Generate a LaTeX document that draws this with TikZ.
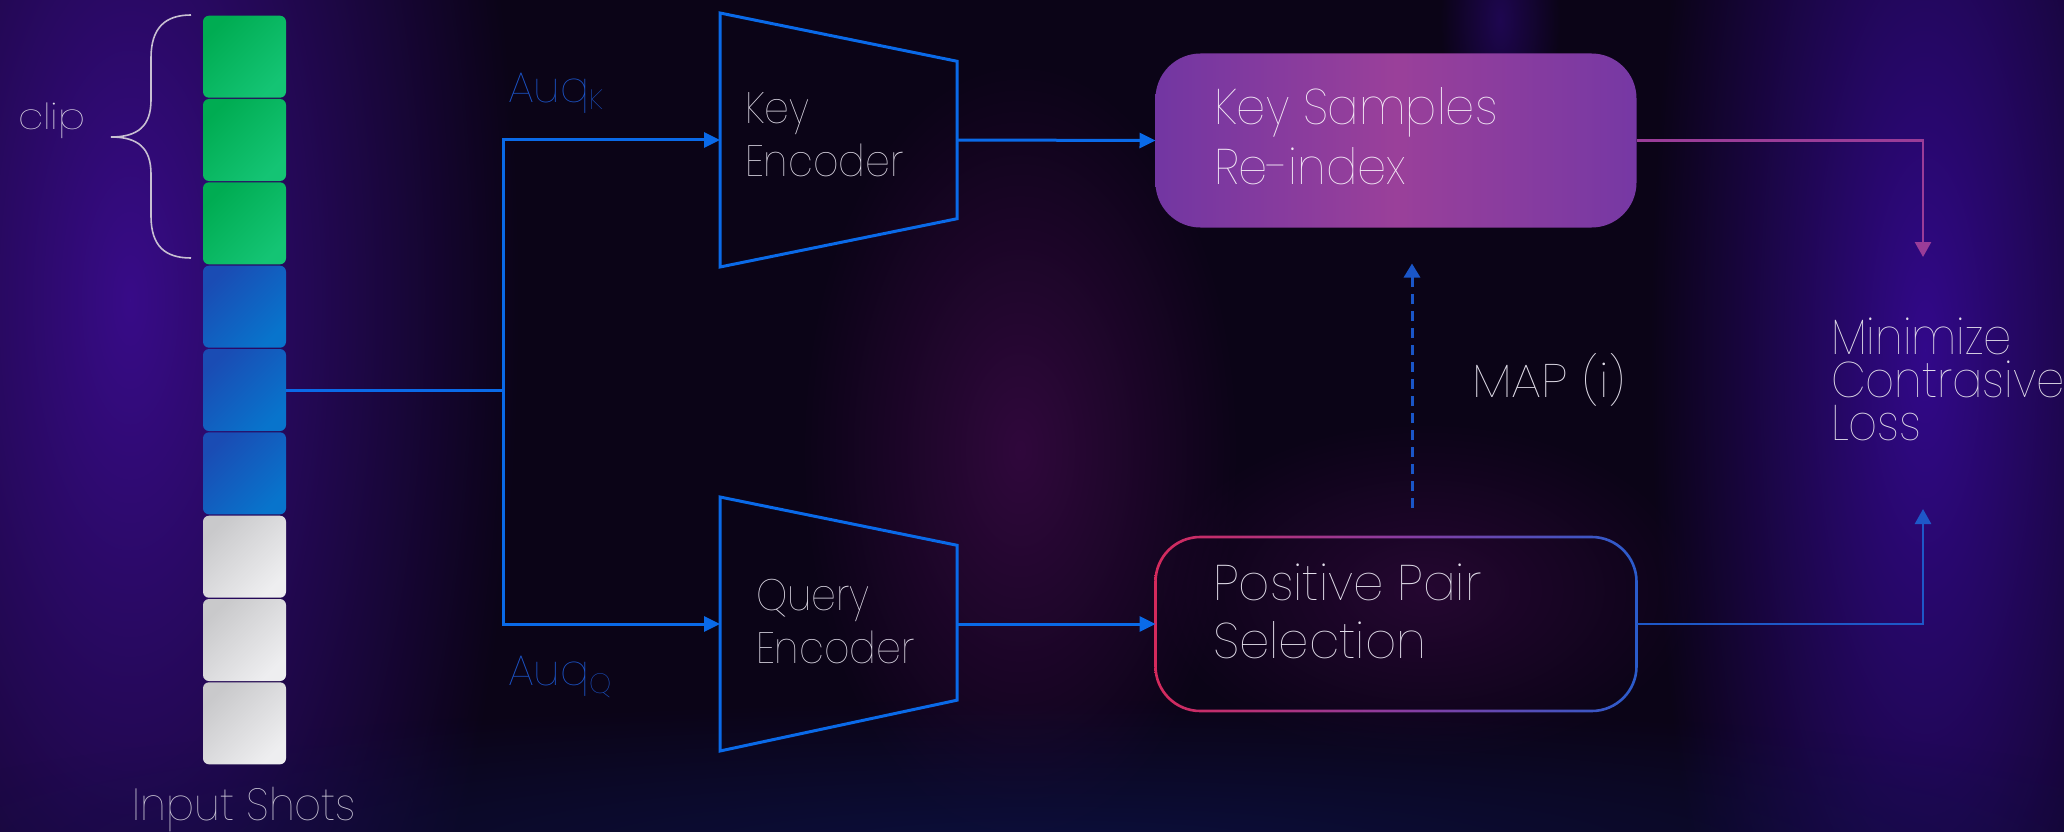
\documentclass[tikz,border=0pt]{standalone}
\usepackage{fontspec}
\usepackage{graphicx}
\IfFontExistsTF{Poppins Thin}{\setmainfont{Poppins Thin}}{%
  \IfFontExistsTF{Poppins ExtraLight}{\setmainfont{Poppins ExtraLight}}{\setmainfont{Poppins}}}
\usetikzlibrary{arrows.meta,calc,fadings}

\definecolor{bgbase}{HTML}{0B0417}
\definecolor{glowleft}{HTML}{380C88}
\definecolor{glowright}{HTML}{32098A}
\definecolor{glowmid}{HTML}{30083C}
\definecolor{glowlow}{HTML}{0C1246}
\definecolor{linkblue}{HTML}{0A6AE8}
\definecolor{outblue}{HTML}{1E58C8}
\definecolor{outmag}{HTML}{9A3C98}
\definecolor{dashblue}{HTML}{1A56C8}
\definecolor{auqblue}{HTML}{1C56CC}
\definecolor{txtgray}{HTML}{E2DEEA}
\definecolor{txtlight}{HTML}{F4EAF6}
\definecolor{txtshots}{HTML}{CAC6D6}
\definecolor{bracegray}{HTML}{C8C0D2}
\definecolor{greenA}{HTML}{00AC52}
\definecolor{greenB}{HTML}{14C474}
\definecolor{blueA}{HTML}{1A4CB4}
\definecolor{blueB}{HTML}{0874CC}
\definecolor{grayA}{HTML}{C9C9CB}
\definecolor{grayB}{HTML}{EEEEF0}
\definecolor{ksrA}{HTML}{7236A2}
\definecolor{ksrM}{HTML}{9A409A}
\definecolor{ksrB}{HTML}{7638A4}
\definecolor{ringA}{HTML}{D42A5C}
\definecolor{ringM}{HTML}{8C3CA0}
\definecolor{ringB}{HTML}{2A5CCC}

\tikzfading[name=glowfade, inner color=transparent!0, outer color=transparent!100]

% horizontally condensed text
\newcommand{\hsq}[2]{\scalebox{#1}[1]{#2}}

\tikzset{
  shot/.style={rectangle, rounded corners=6pt, minimum width=83pt,
    minimum height=82pt, inner sep=0pt, outer sep=0pt},
  shotgreen/.style={shot, left color=greenA, right color=greenB, shading angle=45},
  shotblue/.style={shot, left color=blueA, right color=blueB, shading angle=45},
  shotgray/.style={shot, left color=grayA, right color=grayB, shading angle=45},
  encbox/.style={rectangle, minimum width=237pt, minimum height=254pt, inner sep=0pt, outer sep=0pt},
  encline/.style={draw=linkblue, line width=3pt, line join=miter},
  link/.style={draw=linkblue, line width=3pt, -{Triangle[length=16pt,width=15pt]}},
  plainlink/.style={draw=linkblue, line width=3pt},
  outlink/.style={line width=2.6pt, -{Triangle[length=15pt,width=16pt]}},
  label/.style={inner sep=0pt, outer sep=0pt, text=txtgray},
  bigbox/.style={rectangle, minimum width=481pt, minimum height=174pt, inner sep=0pt, outer sep=0pt}
}

\begin{document}
\begin{tikzpicture}[x=1pt,y=-1pt]
\useasboundingbox (0,0) rectangle (2064,832);

% dark backdrop with soft coloured glows
\fill[bgbase] (0,0) rectangle (2064,832);
\fill[glowleft, path fading=glowfade] (-260,-700) rectangle (520,1300);
\fill[glowright, path fading=glowfade] (1650,-600) rectangle (2200,1300);
\fill[glowmid, path fading=glowfade] (800,60) rectangle (1240,840);
\fill[glowmid, path fading=glowfade, opacity=0.7] (1150,420) rectangle (1700,760);
\fill[glowright, path fading=glowfade, opacity=0.5] (1440,-120) rectangle (1560,160);
\fill[glowlow, path fading=glowfade, opacity=0.8] (-200,700) rectangle (2300,1000);

% input shots
\node[shotgreen] (s1) at (244.5,56.7) {};
\node[shotgreen] (s2) at (244.5,140.0) {};
\node[shotgreen] (s3) at (244.5,223.3) {};
\node[shotblue]  (s4) at (244.5,306.7) {};
\node[shotblue]  (s5) at (244.5,390.0) {};
\node[shotblue]  (s6) at (244.5,473.3) {};
\node[shotgray]  (s7) at (244.5,556.7) {};
\node[shotgray]  (s8) at (244.5,640.0) {};
\node[shotgray]  (s9) at (244.5,723.3) {};
\node[label, anchor=base, font=\fontsize{45}{50}\selectfont, text=txtshots] (inshots) at (244.5,820)
  {\hsq{0.93}{Input Shots}};

% clip brace
\draw[bracegray, line width=1.6pt]
  (191,15) .. controls (165,15) and (151,28) .. (151,58) -- (151,100)
  .. controls (151,126) and (138,137) .. (111,137)
  .. controls (138,137) and (151,148) .. (151,174) -- (151,216)
  .. controls (151,246) and (165,258) .. (191,258);
\node[label, anchor=base west, font=\fontsize{36}{40}\selectfont] (cliplbl) at (18,130) {\hsq{1.12}{clip}};

% encoders
\node[encbox] (kenc) at (838.5,140) {};
\node[encbox] (qenc) at (838.5,624) {};
\draw[encline] (kenc.north west) -- ($(kenc.north east)!0.19!(kenc.south east)$)
  -- ($(kenc.north east)!0.81!(kenc.south east)$) -- (kenc.south west) -- cycle;
\draw[encline] (qenc.north west) -- ($(qenc.north east)!0.19!(qenc.south east)$)
  -- ($(qenc.north east)!0.80!(qenc.south east)$) -- (qenc.south west) -- cycle;
\node[label, anchor=base west, font=\fontsize{44}{53}\selectfont] (kencT) at (745,124)
  {\hsq{0.9}{\parbox[t]{200pt}{\raggedright Key\\Encoder}}};
\node[label, anchor=base west, font=\fontsize{44}{53}\selectfont] (qencT) at (756,610)
  {\hsq{0.9}{\parbox[t]{200pt}{\raggedright Query\\Encoder}}};

% augmentation branches
\coordinate (jn) at (503,390);
\draw[plainlink] (s5.east) -- (jn);
\draw[link] (jn) |- (kenc.west);
\draw[link] (jn) |- (qenc.west);
\node[label, anchor=base west, text=auqblue, font=\fontsize{43}{50}\selectfont] (auqk) at (508,103)
  {Auq{\fontsize{28}{30}\selectfont\raisebox{-7pt}{K}}};
\node[label, anchor=base west, text=auqblue, font=\fontsize{43}{50}\selectfont] (auqq) at (508,685)
  {Auq{\fontsize{28}{30}\selectfont\raisebox{-8pt}{Q}}};

% key samples re-index
\node[bigbox, rounded corners=45pt, left color=ksrA, right color=ksrB,
  middle color=ksrM] (ksr) at (1396,140.5) {};
\node[label, anchor=base west, text=txtlight, font=\fontsize{50}{59}\selectfont] (ksrT) at (1214,125)
  {\hsq{0.93}{\parbox[t]{400pt}{\raggedright Key Samples\\Re-index}}};

% positive pair selection with a gradient outline
\node[bigbox] (pps) at (1396,624) {};
\shade[left color=ringA, right color=ringB, middle color=ringM, even odd rule]
  [rounded corners=46pt] ($(pps.north west)+(-1.3,-1.3)$) rectangle ($(pps.south east)+(1.3,1.3)$)
  [rounded corners=43.5pt] ($(pps.north west)+(1.3,1.3)$) rectangle ($(pps.south east)+(-1.3,-1.3)$);
\node[label, anchor=base west, font=\fontsize{50}{58}\selectfont] (ppsT) at (1213,600)
  {\hsq{0.97}{\parbox[t]{400pt}{\raggedright Positive Pair\\Selection}}};

\draw[link] (kenc.east) -- (ksr.west);
\draw[link] (qenc.east) -- (pps.west);

% MAP feedback
\draw[dashblue, line width=3pt, dash pattern=on 10pt off 7pt, shorten <=29pt, shorten >=36pt,
  -{Triangle[length=14pt,width=16pt]}] ([xshift=16pt]pps.north) -- ([xshift=16pt]ksr.south);
\node[label, anchor=base west, font=\fontsize{47}{55}\selectfont] (mapT) at (1472,397) {\hsq{1.06}{MAP (i)}};

% contrastive loss
\node[label, anchor=base west, font=\fontsize{50}{43}\selectfont] (loss) at (1831,354)
  {\hsq{0.9}{\parbox[t]{260pt}{\raggedright Minimize\\Contrasive\\Loss}}};
\coordinate (lossTop) at (1923,257);
\coordinate (lossBot) at (1923,509);
\draw[outlink, outmag] (ksr.east) -| (lossTop);
\draw[outlink, outblue] (pps.east) -| (lossBot);
\end{tikzpicture}
\end{document}
